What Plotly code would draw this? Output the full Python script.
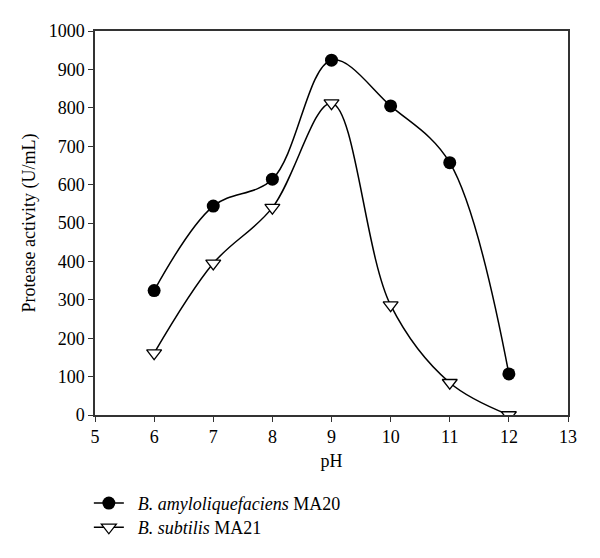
import plotly.graph_objects as go

ph = [6, 7, 8, 9, 10, 11, 12]
amylo = [324, 544, 614, 924, 805, 657, 107]
subtilis = [161, 395, 540, 812, 286, 84, 0]

x_ticks = [5, 6, 7, 8, 9, 10, 11, 12, 13]
y_ticks = [0, 100, 200, 300, 400, 500, 600, 700, 800, 900, 1000]

font_family = "Liberation Serif"
fs = 18

fig = go.Figure()
fig.add_trace(go.Scatter(
    x=ph, y=amylo, mode="lines+markers",
    name="&nbsp;&nbsp;<i>B. amyloliquefaciens</i> MA20",
    line=dict(color="black", width=1.5, shape="spline", smoothing=1.0),
    marker=dict(symbol="circle", size=13, color="black"),
    legend="legend",
))
fig.add_trace(go.Scatter(
    x=ph, y=subtilis, mode="lines+markers",
    name="&nbsp;&nbsp;<i>B. subtilis</i> MA21",
    line=dict(color="black", width=1.5, shape="spline", smoothing=1.0),
    marker=dict(symbol="triangle-down", size=13, color="white",
                line=dict(color="black", width=1.3)),
    legend="legend2",
))

axis_common = dict(
    showline=True, linecolor="#333", linewidth=1.5, mirror=True,
    ticks="outside", ticklen=5, tickwidth=1.3, tickcolor="#333",
    showgrid=False, zeroline=False,
    tickfont=dict(family=font_family, size=fs, color="black"),
)

legend_common = dict(
    x=-0.013, xanchor="left", yanchor="top",
    font=dict(family=font_family, size=fs, color="black"),
    bgcolor="rgba(0,0,0,0)",
)

# page body has an 8px default margin; compensate so the plot area lands at x 95-568, y 31-415
fig.update_layout(
    width=600, height=558,
    margin=dict(l=87, r=40, t=23, b=151),
    paper_bgcolor="white", plot_bgcolor="white",
    font=dict(family=font_family, size=fs, color="black"),
    xaxis=dict(range=[5, 13], tickvals=x_ticks, **axis_common,
               title=dict(text="pH", font=dict(family=font_family, size=fs), standoff=8)),
    yaxis=dict(range=[0, 1000], tickvals=y_ticks, **axis_common,
               title=dict(text="Protease activity (U/mL)", font=dict(family=font_family, size=fs), standoff=8)),
    showlegend=True,
    legend=dict(y=-0.182, **legend_common),
    legend2=dict(y=-0.245, **legend_common),
)

fig.write_html("out.html")
